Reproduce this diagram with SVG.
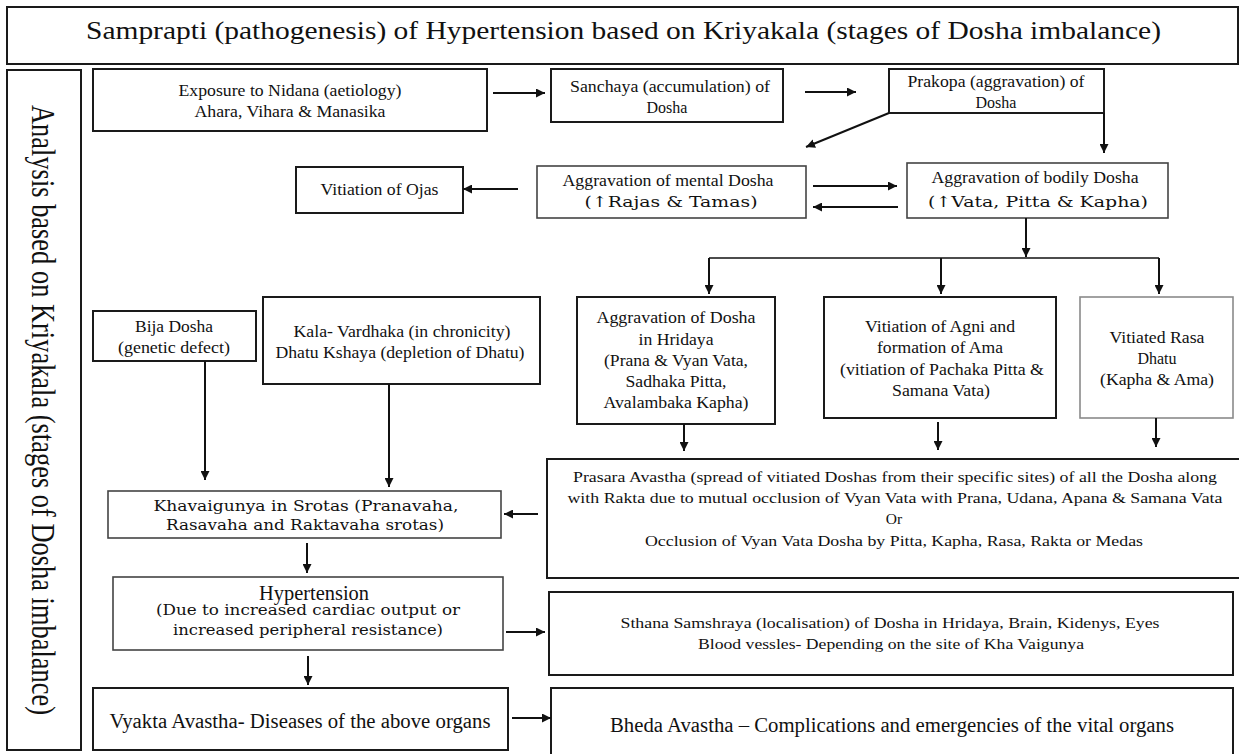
<svg xmlns="http://www.w3.org/2000/svg" width="1239" height="754" viewBox="0 0 1239 754">
<style>
  .box{fill:#fff;stroke:#1a1a1a;stroke-width:2}
  .lbox{fill:#fff;stroke:#444;stroke-width:1.6}
  .gbox{fill:#fff;stroke:#8a8a8a;stroke-width:1.6}
  .t{font-family:"Liberation Serif","Times New Roman",serif;font-size:16px;fill:#111;text-anchor:middle}
  .b{font-family:"DejaVu Serif","Bookman Old Style",serif;font-size:14.5px;fill:#111;text-anchor:middle}
  .con line,.con polyline{stroke:#111;stroke-width:2;fill:none}
</style>
<defs>
  <marker id="ah" viewBox="0 0 10 10" refX="10" refY="5" markerWidth="9" markerHeight="9" markerUnits="userSpaceOnUse" orient="auto">
    <path d="M0,0 L10,5 L0,10 z" fill="#111"/>
  </marker>
</defs>
<rect x="0" y="0" width="1239" height="754" fill="#fff"/>

<g id="title">
  <rect class="box" x="7" y="7" width="1231" height="57"/>
  <text class="t" x="623.5" y="39" style="font-size:25px" textLength="1075" lengthAdjust="spacingAndGlyphs">Samprapti (pathogenesis) of Hypertension based on Kriyakala (stages of Dosha imbalance)</text>
</g>

<g id="side">
  <rect class="box" x="7" y="70" width="74" height="680"/>
  <text class="t" transform="translate(32,410) scale(1.25,1) rotate(90)" x="0" y="0" style="font-size:27px" textLength="610" lengthAdjust="spacingAndGlyphs">Analysis based on Kriyakala (stages of Dosha imbalance)</text>
</g>

<g id="nidana">
  <rect class="box" x="93" y="69" width="394" height="62"/>
  <text class="t" x="290" y="96" textLength="223" lengthAdjust="spacingAndGlyphs">Exposure to Nidana (aetiology)</text>
  <text class="t" x="290" y="117" textLength="191" lengthAdjust="spacingAndGlyphs">Ahara, Vihara &amp; Manasika</text>
</g>

<g id="sanchaya">
  <rect class="box" x="551" y="69" width="232" height="53"/>
  <text class="t" x="670" y="92" textLength="200" lengthAdjust="spacingAndGlyphs">Sanchaya (accumulation) of</text>
  <text class="t" x="667" y="113">Dosha</text>
</g>

<g id="prakopa">
  <rect class="box" x="889" y="69" width="215" height="44"/>
  <text class="t" x="996" y="87" textLength="177" lengthAdjust="spacingAndGlyphs">Prakopa (aggravation) of</text>
  <text class="t" x="996" y="108">Dosha</text>
</g>

<g id="ojas">
  <rect class="box" x="296" y="167" width="167" height="46"/>
  <text class="t" x="379.5" y="195" style="font-size:17px" textLength="118" lengthAdjust="spacingAndGlyphs">Vitiation of Ojas</text>
</g>

<g id="mental">
  <rect class="lbox" x="537" y="166" width="269" height="52"/>
  <text class="t" x="668" y="186" textLength="211" lengthAdjust="spacingAndGlyphs">Aggravation of mental Dosha</text>
  <text class="b" x="671" y="207" style="font-size:15px" textLength="173" lengthAdjust="spacingAndGlyphs">(↑Rajas &amp; Tamas)</text>
</g>

<g id="bodily">
  <rect class="lbox" x="907" y="163" width="261" height="55"/>
  <text class="t" x="1035" y="183" textLength="207" lengthAdjust="spacingAndGlyphs">Aggravation of bodily Dosha</text>
  <text class="b" x="1038" y="207" style="font-size:15px" textLength="220" lengthAdjust="spacingAndGlyphs">(↑Vata, Pitta &amp; Kapha)</text>
</g>

<g id="hridaya">
  <rect class="box" x="577" y="297" width="198" height="127"/>
  <text class="t" x="676" y="323" textLength="159" lengthAdjust="spacingAndGlyphs">Aggravation of Dosha</text>
  <text class="t" x="676" y="345" textLength="75" lengthAdjust="spacingAndGlyphs">in Hridaya</text>
  <text class="t" x="676" y="366" textLength="144" lengthAdjust="spacingAndGlyphs">(Prana &amp; Vyan Vata,</text>
  <text class="t" x="676" y="387" textLength="101" lengthAdjust="spacingAndGlyphs">Sadhaka Pitta,</text>
  <text class="t" x="676" y="408" textLength="145" lengthAdjust="spacingAndGlyphs">Avalambaka Kapha)</text>
</g>

<g id="agni">
  <rect class="box" x="824" y="297" width="232" height="121"/>
  <text class="t" x="940" y="332" textLength="150" lengthAdjust="spacingAndGlyphs">Vitiation of Agni and</text>
  <text class="t" x="940" y="353" textLength="126" lengthAdjust="spacingAndGlyphs">formation of Ama</text>
  <text class="t" x="942" y="375" textLength="204" lengthAdjust="spacingAndGlyphs">(vitiation of Pachaka Pitta &amp;</text>
  <text class="t" x="941" y="396" textLength="98" lengthAdjust="spacingAndGlyphs">Samana Vata)</text>
</g>

<g id="rasa">
  <rect class="gbox" x="1080" y="297" width="153" height="121"/>
  <text class="t" x="1157" y="343" textLength="95" lengthAdjust="spacingAndGlyphs">Vitiated Rasa</text>
  <text class="t" x="1157" y="364">Dhatu</text>
  <text class="t" x="1157" y="385" textLength="114" lengthAdjust="spacingAndGlyphs">(Kapha &amp; Ama)</text>
</g>

<g id="bija">
  <rect class="box" x="93" y="311" width="163" height="50"/>
  <text class="t" x="174" y="332" textLength="78" lengthAdjust="spacingAndGlyphs">Bija Dosha</text>
  <text class="t" x="174" y="353" textLength="112" lengthAdjust="spacingAndGlyphs">(genetic defect)</text>
</g>

<g id="kala">
  <rect class="box" x="263" y="297" width="277" height="87"/>
  <text class="t" x="402" y="337" textLength="217" lengthAdjust="spacingAndGlyphs">Kala- Vardhaka (in chronicity)</text>
  <text class="t" x="400" y="358" textLength="249" lengthAdjust="spacingAndGlyphs">Dhatu Kshaya (depletion of Dhatu)</text>
</g>

<g id="prasara">
  <rect class="box" x="547" y="459" width="700" height="119"/>
  <text class="t" x="895" y="482" style="font-size:15.5px" textLength="644" lengthAdjust="spacingAndGlyphs">Prasara Avastha (spread of vitiated Doshas from their specific sites) of all the Dosha along</text>
  <text class="t" x="895" y="503" style="font-size:15.5px" textLength="655" lengthAdjust="spacingAndGlyphs">with Rakta due to mutual  occlusion of Vyan Vata with Prana, Udana, Apana &amp; Samana Vata</text>
  <text class="t" x="894" y="524" style="font-size:15.5px">Or</text>
  <text class="t" x="894" y="546" style="font-size:15.5px" textLength="498" lengthAdjust="spacingAndGlyphs">Occlusion of Vyan Vata Dosha by Pitta, Kapha, Rasa, Rakta or Medas</text>
</g>

<g id="khavaigunya">
  <rect class="lbox" x="108" y="491" width="393" height="47"/>
  <text class="b" x="306" y="511" textLength="305" lengthAdjust="spacingAndGlyphs">Khavaigunya in Srotas (Pranavaha,</text>
  <text class="b" x="305" y="530" textLength="278" lengthAdjust="spacingAndGlyphs">Rasavaha and Raktavaha srotas)</text>
</g>

<g id="hypertension">
  <rect class="lbox" x="113" y="577" width="390" height="73"/>
  <text class="t" x="314" y="600" style="font-size:20px" textLength="110" lengthAdjust="spacingAndGlyphs">Hypertension</text>
  <text class="b" x="308" y="615" textLength="304" lengthAdjust="spacingAndGlyphs">(Due to increased cardiac output or</text>
  <text class="b" x="308" y="635" textLength="270" lengthAdjust="spacingAndGlyphs">increased peripheral resistance)</text>
</g>

<g id="sthana">
  <rect class="box" x="549" y="592" width="684" height="83"/>
  <text class="t" x="890" y="628" style="font-size:15.5px" textLength="539" lengthAdjust="spacingAndGlyphs">Sthana  Samshraya (localisation) of Dosha in Hridaya, Brain, Kidenys, Eyes</text>
  <text class="t" x="891" y="649" style="font-size:15.5px" textLength="386" lengthAdjust="spacingAndGlyphs">Blood vessles- Depending on the site of Kha Vaigunya</text>
</g>

<g id="vyakta">
  <rect class="box" x="93" y="688" width="415" height="62"/>
  <text class="t" x="300" y="728" style="font-size:20px" textLength="381" lengthAdjust="spacingAndGlyphs">Vyakta Avastha- Diseases of the above organs</text>
</g>

<g id="bheda">
  <rect class="box" x="551" y="688" width="682" height="80"/>
  <text class="t" x="892" y="732" style="font-size:20px" textLength="564" lengthAdjust="spacingAndGlyphs">Bheda Avastha – Complications and emergencies of the vital organs</text>
</g>

<g id="connectors" class="con">
  <line x1="493" y1="93" x2="545" y2="93" marker-end="url(#ah)"/>
  <line x1="805" y1="92" x2="856" y2="92" marker-end="url(#ah)"/>
  <line x1="889" y1="113" x2="806" y2="147" marker-end="url(#ah)"/>
  <line x1="1104" y1="113" x2="1104" y2="153" marker-end="url(#ah)"/>
  <line x1="518" y1="189" x2="463" y2="189" marker-end="url(#ah)"/>
  <line x1="813" y1="186" x2="897" y2="186" marker-end="url(#ah)"/>
  <line x1="898" y1="207" x2="813" y2="207" marker-end="url(#ah)"/>
  <line x1="1026" y1="218" x2="1026" y2="257" marker-end="url(#ah)"/>
  <line x1="709" y1="258" x2="1159" y2="258" style="stroke-width:1.6"/>
  <line x1="709" y1="258" x2="709" y2="294" marker-end="url(#ah)"/>
  <line x1="941" y1="258" x2="941" y2="294" marker-end="url(#ah)"/>
  <line x1="1159" y1="258" x2="1159" y2="294" marker-end="url(#ah)"/>
  <line x1="684" y1="424" x2="684" y2="451" marker-end="url(#ah)"/>
  <line x1="938" y1="422" x2="938" y2="450" marker-end="url(#ah)"/>
  <line x1="1156" y1="418" x2="1156" y2="447" marker-end="url(#ah)"/>
  <line x1="205" y1="361" x2="205" y2="480" marker-end="url(#ah)"/>
  <line x1="389" y1="384" x2="389" y2="487" marker-end="url(#ah)"/>
  <line x1="538" y1="514" x2="504" y2="514" marker-end="url(#ah)"/>
  <line x1="307" y1="543" x2="307" y2="573" marker-end="url(#ah)"/>
  <line x1="506" y1="632" x2="545" y2="632" marker-end="url(#ah)"/>
  <line x1="308" y1="656" x2="308" y2="685" marker-end="url(#ah)"/>
  <line x1="512" y1="718" x2="551" y2="718" marker-end="url(#ah)"/>
</g>
</svg>
